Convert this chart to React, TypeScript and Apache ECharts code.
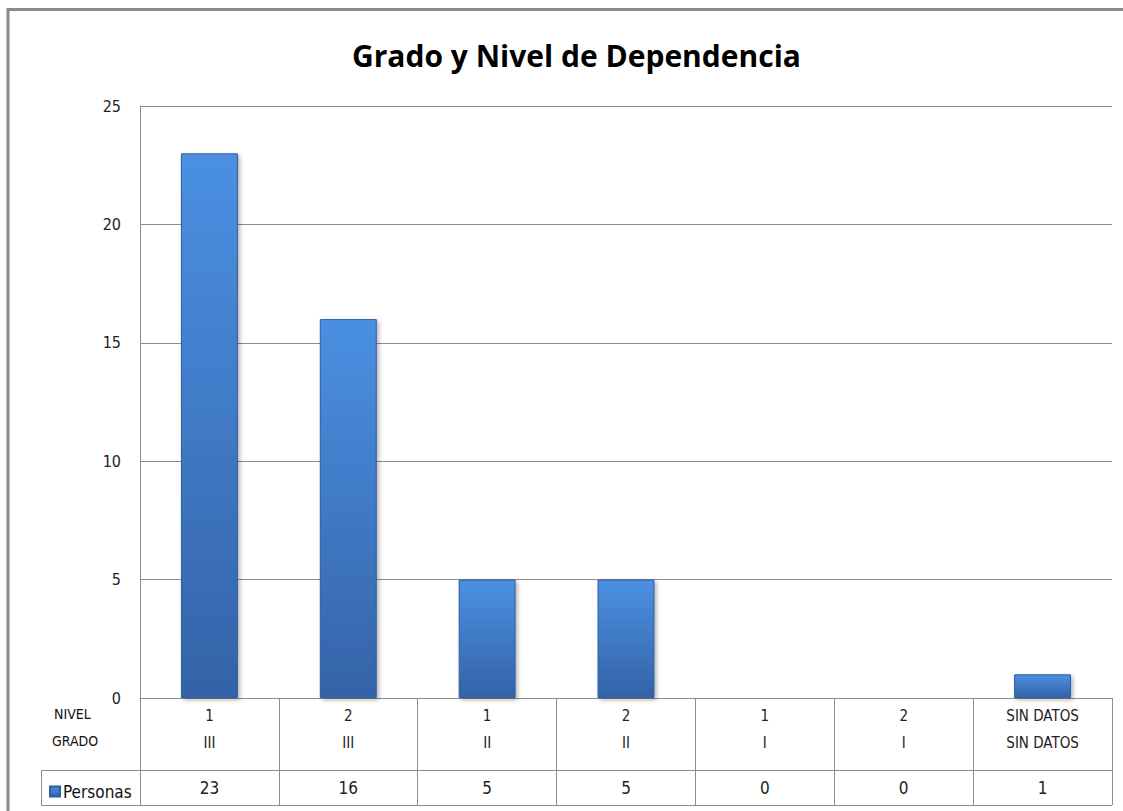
import React, { useEffect, useRef } from "react";
import * as echarts from "echarts";

const nivel = ["1", "2", "1", "2", "1", "2", "SIN DATOS"];
const grado = ["III", "III", "II", "II", "I", "I", "SIN DATOS"];
const personas = [23, 16, 5, 5, 0, 0, 1];
const seriesName = "Personas";
const yMin = 0;
const yMax = 25;
const yStep = 5;

const FONT = "'DejaVu Sans Condensed', 'Open Sans', sans-serif";
const LINE = "#8c8c8c";

export default function App() {
  const ref = useRef<HTMLDivElement>(null);
  useEffect(() => {
    if (!ref.current) return;
    const chart = echarts.init(ref.current, undefined, { renderer: "svg" });
    const cats = nivel.map((n, i) => `${n}|${grado[i]}`);
    const gridLeft = 140;
    const gridRight = 1112;
    const axisY = 698;
    const row1 = 770;
    const row2 = 805;
    const legendLeft = 41;
    chart.setOption({
      animation: false,
      title: {
        text: "Grado y Nivel de Dependencia",
        left: 347,
        top: 35,
        textStyle: {
          fontFamily: "'Open Sans', sans-serif",
          fontWeight: "bold",
          fontSize: 30,
          color: "#000",
        },
      },
      legend: {
        data: [seriesName],
        left: 44,
        top: 778,
        icon: "rect",
        itemWidth: 10,
        itemHeight: 10,
        itemGap: 4,
        textStyle: { fontFamily: FONT, fontSize: 17, color: "#111", padding: [0, 0, 0, -2] },
      },
      grid: { left: gridLeft, right: 1123 - gridRight, top: 106, bottom: 811 - axisY, containLabel: false },
      yAxis: {
        type: "value",
        min: yMin,
        max: yMax,
        interval: yStep,
        axisLine: { show: true, lineStyle: { color: LINE, width: 1 } },
        axisTick: { show: false },
        splitLine: { lineStyle: { color: LINE, width: 1 } },
        axisLabel: { fontFamily: FONT, fontSize: 16, color: "#222", margin: 19 },
      },
      xAxis: [
        {
          type: "category",
          data: cats,
          position: "bottom",
          axisLine: { show: true, lineStyle: { color: LINE, width: 1 } },
          axisTick: { show: true, length: row2 - axisY, lineStyle: { color: LINE, width: 1 } },
          axisLabel: {
            interval: 0,
            margin: 4,
            fontFamily: FONT,
            fontSize: 15,
            color: "#222",
            lineHeight: 27,
            formatter: (v: string) => v.split("|").join("\n"),
          },
        },
        {
          type: "category",
          data: personas.map((p) => String(p)),
          position: "bottom",
          offset: row1 - axisY,
          axisLine: { show: true, lineStyle: { color: LINE, width: 1 } },
          axisTick: { show: false },
          axisLabel: { interval: 0, margin: 8, fontFamily: FONT, fontSize: 17, color: "#222", lineHeight: 20 },
        },
      ],
      series: [
        {
          name: seriesName,
          type: "bar",
          xAxisIndex: 0,
          data: personas,
          barWidth: "41%",
          itemStyle: {
            color: new echarts.graphic.LinearGradient(0, 0, 0, 1, [
              { offset: 0, color: "#4b90e2" },
              { offset: 1, color: "#3463a8" },
            ]),
            borderColor: "#2f5d9c",
            borderWidth: 1,
            shadowBlur: 4,
            shadowColor: "rgba(0,0,0,0.3)",
            shadowOffsetX: 2,
            shadowOffsetY: 2,
          },
        },
      ],
      graphic: [
        {
          type: "polyline",
          shape: { points: [[8, 811], [8, 9.5], [1123, 9.5]] },
          style: { stroke: "#8a8a8a", lineWidth: 3, fill: null },
          silent: true,
        },
        {
          type: "polyline",
          shape: { points: [[gridLeft, row1 + 0.5], [legendLeft + 0.5, row1 + 0.5], [legendLeft + 0.5, row2 + 0.5], [gridRight, row2 + 0.5]] },
          style: { stroke: LINE, lineWidth: 1, fill: null },
          silent: true,
        },
        {
          type: "text",
          left: 54,
          top: 707,
          style: { text: "NIVEL", fontFamily: FONT, fontSize: 14, fill: "#111" },
        },
        {
          type: "text",
          left: 52,
          top: 734,
          style: { text: "GRADO", fontFamily: FONT, fontSize: 14, fill: "#111" },
        },
      ],
    });
    return () => chart.dispose();
  }, []);
  return <div ref={ref} style={{ position: "fixed", left: 0, top: 0, width: 1123, height: 811, background: "#fff" }} />;
}
